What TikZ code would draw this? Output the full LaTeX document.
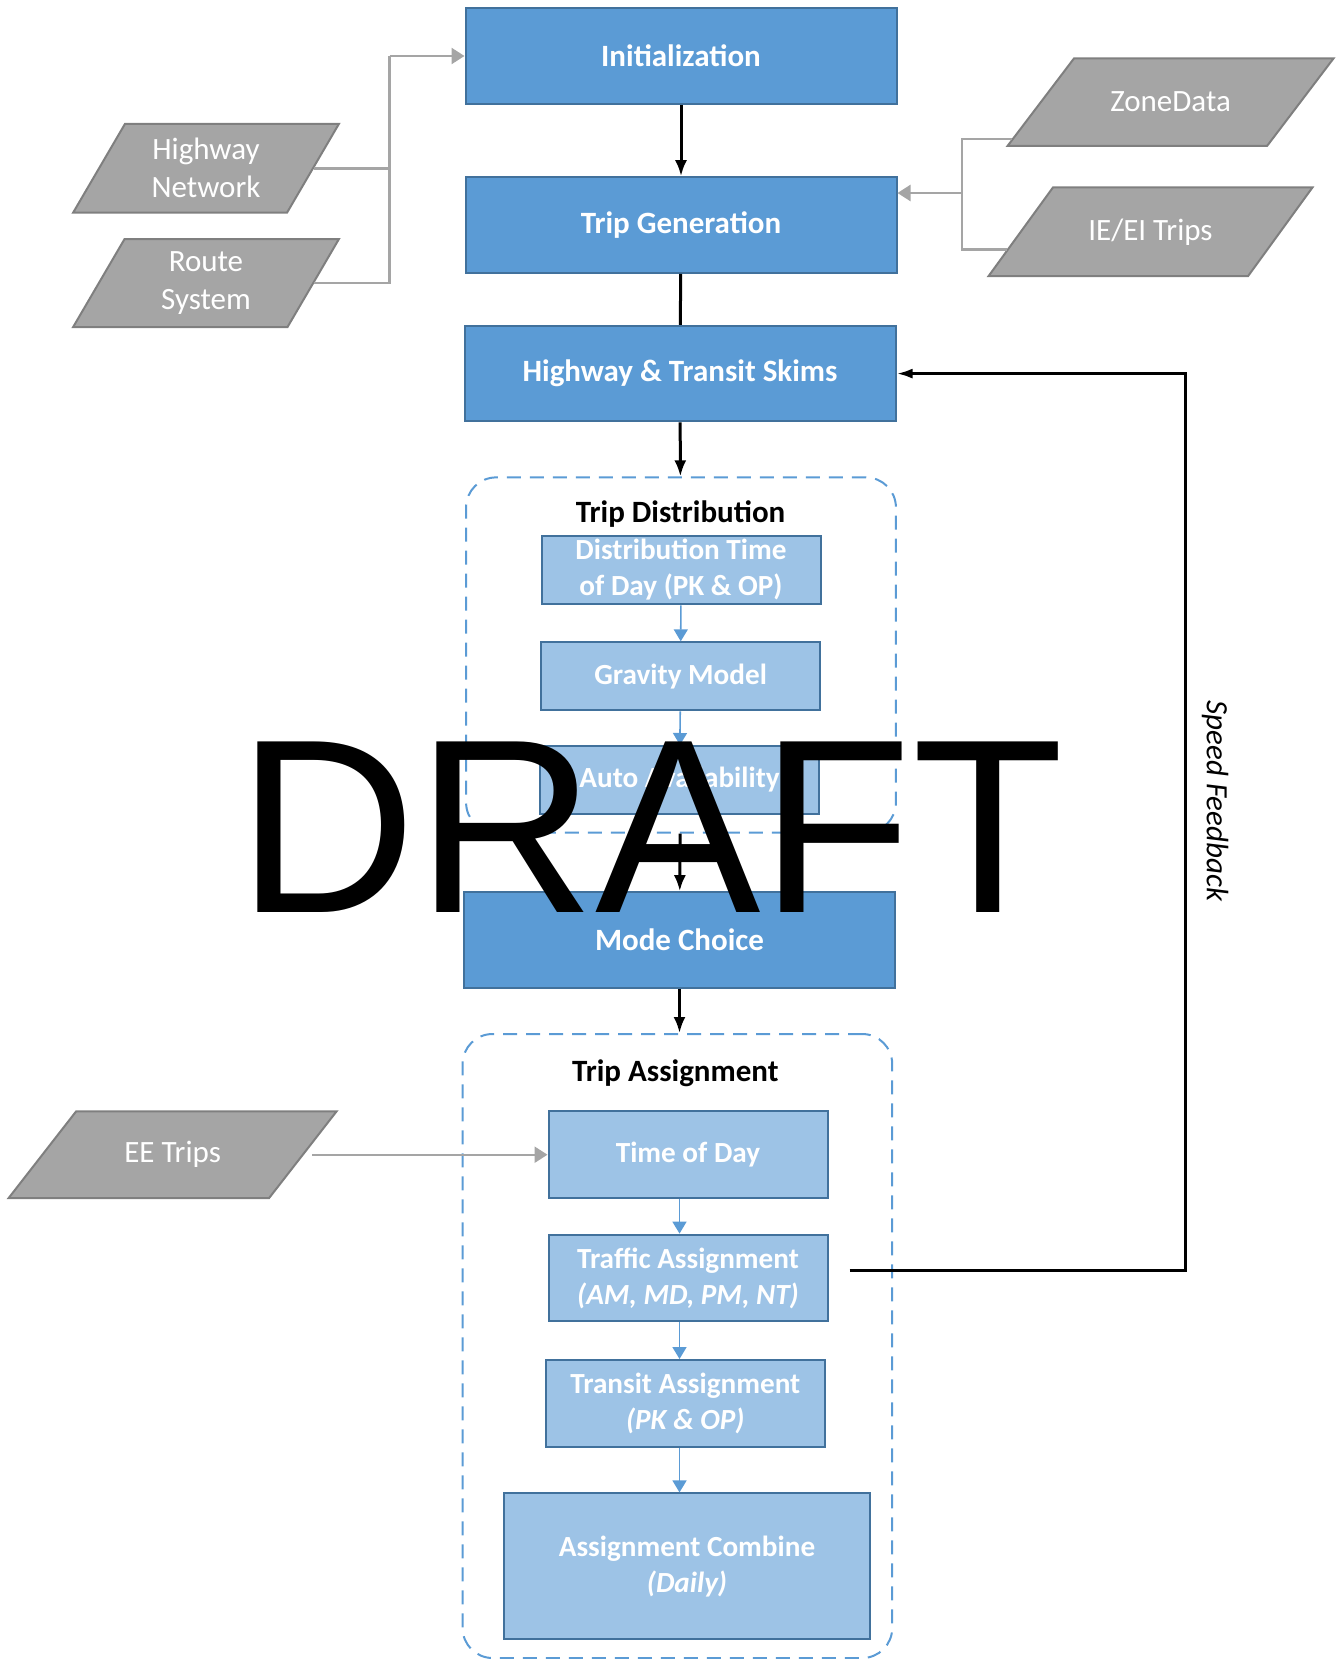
\documentclass[tikz,border=0pt]{standalone}
\usepackage{fontspec}
\setmainfont{Carlito}
\newfontfamily\draftfont{Liberation Sans}
\usetikzlibrary{positioning,shapes.geometric,arrows.meta}

\definecolor{stepblue}{HTML}{5B9BD5}
\definecolor{subblue}{HTML}{9DC3E6}
\definecolor{edgeblue}{HTML}{41719C}
\definecolor{datagray}{HTML}{A5A5A5}
\definecolor{datagrayline}{HTML}{7F7F7F}

\begin{document}
\begin{tikzpicture}[x=0.5pt,y=-0.5pt]
\tikzstyle{main}=[rectangle, draw=edgeblue, line width=1pt, fill=stepblue, text=white, font=\fontsize{15.5}{19}\selectfont\bfseries, minimum width=215.5pt, minimum height=47.8pt]
\tikzstyle{sub}=[rectangle, draw=edgeblue, line width=1pt, fill=subblue, text=white, font=\fontsize{14.6}{18}\selectfont\bfseries, align=center, inner sep=1pt, minimum width=139.5pt]
\tikzstyle{inout}=[trapezium, trapezium stretches body, draw=datagrayline, line width=1pt, fill=datagray, inner sep=0pt]
\tikzstyle{inlabel}=[text=white, font=\fontsize{15.5}{19}\selectfont, align=center]
\tikzstyle{grp}=[rectangle, rounded corners=15pt, draw=stepblue, line width=1pt, dash pattern=on 7pt off 4.5pt]
\tikzstyle{grplabel}=[font=\fontsize{15.5}{19}\selectfont\bfseries]
\tikzstyle{connect}=[-{Latex[length=8pt,width=6pt]}, line width=1.5pt]
\tikzstyle{subconnect}=[-{Triangle[length=6pt,width=7pt]}, draw=stepblue, line width=0.8pt]
\tikzstyle{gline}=[draw=datagray, line width=1.2pt]
\tikzstyle{garrow}=[gline, -{Triangle[length=6.5pt,width=8pt]}]
\tikzstyle{feed}=[-{Latex[length=8pt,width=5pt]}, line width=1.5pt]
\useasboundingbox (0,0) rectangle (1341,1659);
\clip (0,0) rectangle (1341,1659);

  \node[main] (init) at (681,56) {Initialization};
  \node[main] (tgen) at (681,225) {Trip Generation};
  \node[main] (skim) at (680,373.6) {Highway \& Transit Skims};

  % trip distribution
  \node[grp, minimum width=214.9pt, minimum height=177.6pt] (tdist) at (681,655) {};
  \node[grplabel] (tdlab) at (680.6,514.4) {Trip Distribution};
  \node[sub, minimum height=34.4pt] (dtod) at (681,570) {Distribution Time\\of Day (PK \& OP)};
  \node[sub, minimum height=34pt] (grav) at (680.6,676.3) {Gravity Model};
  \node[sub, minimum height=34pt] (avail) at (679.5,780) {Auto Availability};

  \node[main] (mode) at (679.5,940) {Mode Choice};

  % trip assignment
  \node[grp, minimum width=214.8pt, minimum height=312pt] (tasg) at (677.4,1346) {};
  \node[grplabel] (talab) at (675.3,1073.2) {Trip Assignment};
  \node[sub, minimum height=43.4pt] (tod) at (688,1154.7) {Time of Day};
  \node[sub, minimum height=43.4pt] (traf) at (688,1278) {Traffic Assignment\\\textit{(AM, MD, PM, NT)}};
  \node[sub, minimum height=43.4pt] (tran) at (685.3,1403.4) {Transit Assignment\\\textit{(PK \& OP)}};
  \node[sub, minimum width=183pt, minimum height=73pt] (comb) at (687,1566.4) {Assignment Combine\\\textit{(Daily)}};

  % inputs
  \node[inout, trapezium left angle=59.7, trapezium right angle=120.3, minimum width=132.9pt, inner ysep=22.2pt,
        label={[inlabel]center:Highway\\Network}] (hwy) at (206,168.3) {};
  \node[inout, trapezium left angle=59.7, trapezium right angle=120.3, minimum width=132.9pt, inner ysep=22pt,
        label={[inlabel]center:Route\\System}] (rts) at (206,283.1) {};
  \node[inout, trapezium left angle=52.8, trapezium right angle=127.2, minimum width=163pt, inner ysep=21.9pt,
        label={[inlabel]center:ZoneData}] (zone) at (1170.6,102.1) {};
  \node[inout, trapezium left angle=54, trapezium right angle=126, minimum width=162pt, inner ysep=22.2pt,
        label={[inlabel]center:IE/EI Trips}] (ieei) at (1150.5,231.8) {};
  \node[inout, trapezium left angle=52.1, trapezium right angle=127.9, minimum width=164pt, inner ysep=21.7pt,
        label={[inlabel]center:EE Trips}] (ee) at (172.6,1154.7) {};

  \coordinate (jl) at (389.5,56);
  \coordinate (jr) at (962,193);
  \coordinate (fb) at (1185.4,801);

  \draw[connect] (init) -- (tgen);
  \draw[line width=1.5pt] (tgen) -- (skim);
  \draw[connect] (skim) -- (tdist);
  \draw[subconnect] (dtod) -- (grav);
  \draw[subconnect] (grav) -- (avail);
  \draw[connect] (tdist) -- (mode);
  \draw[connect] (mode.south) -- (mode.south |- tasg.north);
  \draw[subconnect] (tod.south -| mode) -- (traf.north -| mode);
  \draw[subconnect] (traf.south -| mode) -- (tran.north -| mode);
  \draw[subconnect] (tran.south -| mode) -- (comb.north -| mode);

  \draw[gline] (hwy.east) -| (jl);
  \draw[gline] (rts.east) -| (jl);
  \draw[garrow] (jl) -- (init.west);
  \draw[gline] (zone.193) -| (jr);
  \draw[gline] (ieei.187) -| (jr);
  \draw[garrow] (jr) -- (jr -| tgen.east);
  \draw[garrow] ([xshift=4pt]ee.east) -- (tod.west);

  \draw[feed] ([xshift=10.5pt,yshift=3.7pt]traf.east) -| (fb) |- (skim.east);
  \node[rotate=-90, font=\fontsize{15.5}{19}\selectfont\itshape] (sf) at (1215,801) {Speed Feedback};

  \node[font=\fontsize{124}{124}\selectfont\draftfont, anchor=base, inner sep=0pt] (draft) at (650.4,912.4) {DRAFT};
\end{tikzpicture}
\end{document}
